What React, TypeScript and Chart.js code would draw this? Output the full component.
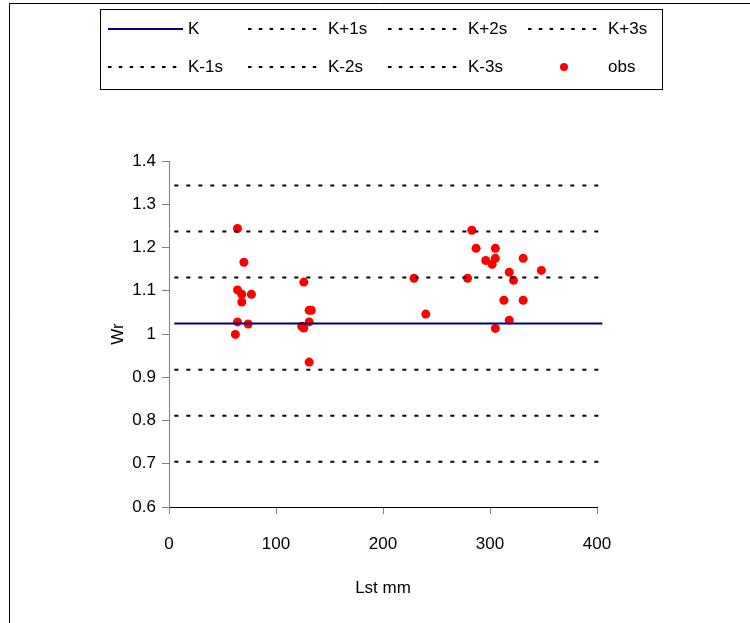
import React, { useEffect, useRef } from 'react';
import { Chart, registerables } from 'chart.js';

Chart.register(...registerables);

// ---- data ----
const obsLength: number[] = [
  64, 70, 64, 68, 77, 68, 64, 74, 62,
  126, 131, 133, 131, 124, 126, 131,
  283, 287, 305, 296, 305, 302, 331, 318, 348, 229, 279, 322, 313, 331, 240, 318, 305,
];
const obsWr: number[] = [
  1.244, 1.166, 1.102, 1.092, 1.092, 1.074, 1.028, 1.023, 0.999,
  1.12, 1.055, 1.055, 1.028, 1.018, 1.014, 0.935,
  1.24, 1.198, 1.198, 1.17, 1.175, 1.161, 1.175, 1.143, 1.147, 1.129, 1.129, 1.124, 1.078, 1.078, 1.046, 1.032, 1.013,
];
const K = 1.024;
const S = 0.1065;
const lineStartEnd: number[] = [5, 405];
const xTickValues: number[] = [0, 100, 200, 300, 400];
const yTickValues: number[] = [0.6, 0.7, 0.8, 0.9, 1.0, 1.1, 1.2, 1.3, 1.4];
const seriesNames: string[] = ['K', 'K+1s', 'K+2s', 'K+3s', 'K-1s', 'K-2s', 'K-3s', 'obs'];
const seriesOffsets: number[] = [0, 1, 2, 3, -1, -2, -3];
const xTitle = 'Lst mm';
const yTitle = 'Wr';

const FONT = "'Liberation Sans', Arial, sans-serif";
const FS = 17;

const legendPlugin = {
  id: 'excelLegend',
  afterDraw(chart: any) {
    const ctx = chart.ctx as CanvasRenderingContext2D;
    ctx.save();
    // outer frame (extends past canvas right/bottom)
    ctx.strokeStyle = '#000';
    ctx.lineWidth = 1;
    ctx.beginPath();
    ctx.moveTo(9.5, 800);
    ctx.lineTo(9.5, 3.5);
    ctx.lineTo(800, 3.5);
    ctx.stroke();
    // legend box
    ctx.strokeStyle = '#000';
    ctx.strokeRect(100.5, 9.5, 562, 80);
    const colX = [108, 248, 388, 528];
    const rowY = [29, 67];
    ctx.font = `${FS}px ${FONT}`;
    ctx.textBaseline = 'middle';
    ctx.textAlign = 'left';
    chart.data.datasets.forEach((ds: any, i: number) => {
      const c = i % 4;
      const r = Math.floor(i / 4);
      const x0 = colX[c];
      const y = rowY[r];
      if (ds.showLine) {
        ctx.save();
        ctx.strokeStyle = ds.borderColor;
        ctx.lineWidth = ds.borderWidth;
        ctx.setLineDash(ds.borderDash && ds.borderDash.length ? [3.5, 7.3] : []);
        ctx.beginPath();
        ctx.moveTo(x0, y);
        ctx.lineTo(x0 + 75, y);
        ctx.stroke();
        ctx.restore();
      } else {
        ctx.fillStyle = ds.backgroundColor;
        ctx.beginPath();
        ctx.arc(x0 + 36, y, 4, 0, Math.PI * 2);
        ctx.fill();
      }
      ctx.fillStyle = '#000';
      ctx.fillText(ds.label, x0 + 80, y);
    });
    ctx.restore();
  },
};

export default function App() {
  const ref = useRef<HTMLCanvasElement | null>(null);
  useEffect(() => {
    if (!ref.current) return;
    const lineSets = seriesOffsets.map((k, i) => ({
      label: seriesNames[i],
      data: lineStartEnd.map((x) => ({ x, y: K + k * S })),
      showLine: true,
      borderColor: k === 0 ? '#000080' : '#000000',
      borderWidth: 2,
      borderDash: k === 0 ? [] : [4, 8],
      borderCapStyle: 'butt',
      pointRadius: 0,
      pointHoverRadius: 0,
      clip: false,
    }));
    const obsSet = {
      label: seriesNames[7],
      data: obsLength.map((x, i) => ({ x, y: obsWr[i] })),
      showLine: false,
      backgroundColor: '#ff0000',
      borderColor: '#ff0000',
      borderWidth: 0,
      pointRadius: 4.5,
      pointHoverRadius: 4.5,
    };
    const chart = new Chart(ref.current, {
      type: 'scatter',
      data: { datasets: [...lineSets, obsSet] as any },
      plugins: [legendPlugin],
      options: {
        animation: false,
        responsive: false,
        devicePixelRatio: 1,
        events: [],
        layout: { padding: { left: 0, top: 161, right: 153, bottom: 0 } },
        plugins: { legend: { display: false }, tooltip: { enabled: false } },
        scales: {
          x: {
            type: 'linear',
            min: 0,
            max: 400,
            afterBuildTicks: (scale: any) => {
              scale.ticks = xTickValues.map((v) => ({ value: v }));
            },
            afterFit: (scale: any) => {
              scale.height = 116;
            },
            grid: { drawOnChartArea: false, drawTicks: true, tickLength: 7, color: '#808080', tickColor: '#808080' },
            border: { display: true, color: '#000000', width: 1 },
            ticks: { color: '#000', padding: 20, font: { family: FONT, size: FS }, maxRotation: 0 },
            title: { display: true, text: xTitle, color: '#000', font: { family: FONT, size: FS }, padding: { top: 0, bottom: 24.8 } },
          },
          y: {
            type: 'linear',
            min: 0.6,
            max: 1.4,
            afterBuildTicks: (scale: any) => {
              scale.ticks = yTickValues.map((v) => ({ value: v }));
            },
            afterFit: (scale: any) => {
              scale.width = 169;
            },
            grid: { drawOnChartArea: false, drawTicks: true, tickLength: 7, color: '#808080', tickColor: '#808080' },
            border: { display: true, color: '#808080', width: 1 },
            ticks: {
              color: '#000',
              padding: 6,
              font: { family: FONT, size: FS },
              callback: (v: any) => String(Math.round(Number(v) * 10) / 10),
            },
            title: { display: true, text: yTitle, color: '#000', font: { family: FONT, size: FS }, padding: { top: 108, bottom: 0 } },
          },
        },
      },
    });
    return () => chart.destroy();
  }, []);
  return (
    <div style={{ position: 'absolute', left: 0, top: 0, width: 750, height: 623, background: '#fff' }}>
      <canvas ref={ref} width={750} height={623} style={{ display: 'block', width: 750, height: 623 }} />
    </div>
  );
}
